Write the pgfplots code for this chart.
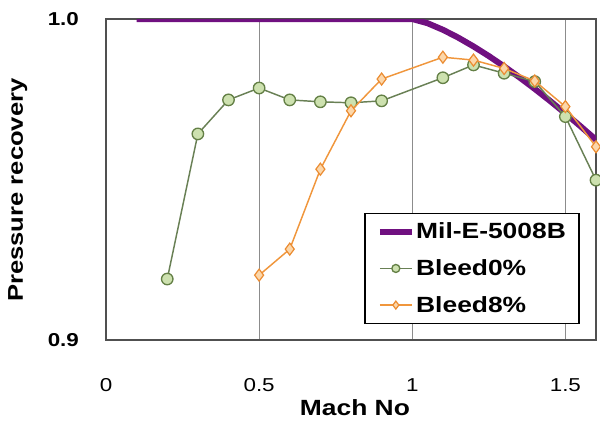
\documentclass[border=0pt]{standalone}
\usepackage{pgfplots}
\pgfplotsset{compat=1.18}
\usepackage{fontspec}
\setmainfont{Liberation Sans}[FakeStretch=1.2]
\definecolor{milpurple}{RGB}{112,16,128}
\definecolor{gedge}{RGB}{100,128,70}
\definecolor{gfill}{RGB}{205,225,175}
\definecolor{gline}{RGB}{105,128,85}
\definecolor{oline}{RGB}{240,150,60}
\definecolor{oedge}{RGB}{235,140,50}
\definecolor{ofill}{RGB}{252,215,170}
\definecolor{frame}{RGB}{80,80,80}
\begin{document}
\begin{tikzpicture}
\useasboundingbox (-79.5pt,-61.5pt) rectangle (370.5pt,255pt);
\begin{axis}[
  at={(0pt,0pt)}, anchor=south west,
  scale only axis, width=367.5pt, height=240.75pt,
  xmin=0, xmax=1.6, ymin=0.9, ymax=1.0,
  xtick={0,0.5,1,1.5}, xticklabels={0,0.5,1,1.5},
  ytick={0.9,1.0}, yticklabels={\textbf{0.9},\textbf{1.0}},
  major tick length=0pt,
  xmajorgrids, major grid style={draw=gray!90, line width=0.6pt},
  axis line style={draw=frame, line width=1.1pt},
  /pgf/number format/assume math mode=true,
  tick label style={font=\fontsize{14}{16}\selectfont},
  xticklabel style={anchor=center, yshift=-34pt},
  yticklabel style={anchor=center, xshift=-32pt},
  xlabel={\textbf{Mach No}}, ylabel={\textbf{Pressure recovery}},
  every axis x label/.style={at={(axis description cs:0.508,-0.212)}, anchor=center, font=\fontsize{16.5}{18}\selectfont},
  every axis y label/.style={at={(axis description cs:-0.18,0.467)}, anchor=center, rotate=90, font=\fontsize{16}{18}\selectfont},
  clip mode=individual,
  legend style={at={(axis description cs:0.967,0.396)}, anchor=north east,
    draw=black, line width=1pt, fill=white,
    font=\bfseries\fontsize{16.5}{18}\selectfont, inner xsep=9pt, inner ysep=6pt, row sep=12pt,
    nodes={inner sep=1pt}},
  legend cell align=left,
  legend image post style={mark size=3pt},
  legend image code/.code={\draw[mark repeat=2,mark phase=2,#1] plot coordinates {(0pt,0pt) (12pt,0pt) (24pt,0pt)};},
]
\addplot[milpurple, line width=4.5pt, no marks] coordinates {
(0.1,1.0) (1.0,1.0) (1.05,0.99869) (1.1,0.99665) (1.15,0.99421) (1.2,0.99146)
(1.25,0.98846) (1.3,0.98523) (1.35,0.98182) (1.4,0.97823) (1.45,0.97448)
(1.5,0.97058) (1.55,0.96654) (1.6,0.96237)};
\addlegendentry{Mil-E-5008B}
\addplot[gline, line width=1.1pt, mark=*, mark size=4.3pt,
  mark options={fill=gfill, draw=gedge, line width=1pt}] coordinates {
(0.2,0.919) (0.3,0.9642) (0.4,0.9748) (0.5,0.9785) (0.6,0.9748) (0.7,0.9742)
(0.8,0.9739) (0.9,0.9745) (1.1,0.9817) (1.2,0.9857) (1.3,0.9831) (1.4,0.9805)
(1.5,0.9696) (1.6,0.9498)};
\addlegendentry{Bleed0\%}
\addplot[oline, line width=1.1pt, mark=diamond*, mark size=4.5pt,
  mark options={fill=ofill, draw=oedge, line width=0.9pt}] coordinates {
(0.5,0.9202) (0.6,0.9283) (0.7,0.9532) (0.8,0.9714) (0.9,0.9813) (1.1,0.9881)
(1.2,0.9872) (1.3,0.9846) (1.4,0.9807) (1.5,0.9727) (1.6,0.9602)};
\addlegendentry{Bleed8\%}
\end{axis}
\end{tikzpicture}
\end{document}
